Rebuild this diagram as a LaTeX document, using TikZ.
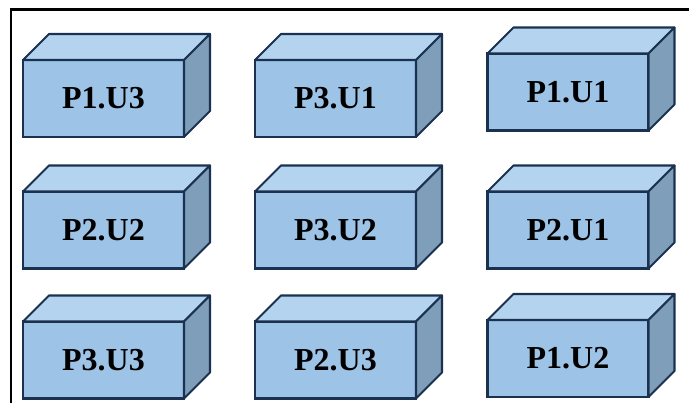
\documentclass[tikz,border=0pt]{standalone}
\usepackage{fontspec}
\setmainfont{Liberation Serif}
\usetikzlibrary{positioning}
\definecolor{frontblue}{HTML}{9DC3E6}
\definecolor{topblue}{HTML}{B4D3EE}
\definecolor{sideblue}{HTML}{7F9EBA}
\definecolor{edgenavy}{HTML}{1B3150}

\begin{document}
\begin{tikzpicture}[
  x=1pt, y=-1pt,
  frontface/.style={draw=edgenavy, fill=frontblue, line width=2.1pt,
    minimum width=161pt, minimum height=77pt, inner sep=0pt, outer sep=0pt,
    font=\fontsize{32}{32}\selectfont\bfseries},
  topface/.style={draw=edgenavy, fill=topblue, line width=2.1pt, line join=round},
  sideface/.style={draw=edgenavy, fill=sideblue, line width=2.1pt, line join=round}
]
  %------------------------------------------------------------
  %  PARAMETERS
  %------------------------------------------------------------
  \def\dep{26}     % depth of each box (shift of back edges)
  \def\wid{161}    % width of a front face
  \def\hgt{77}     % height of a front face

  \useasboundingbox (0,0) rectangle (689,403);

  %------------------------------------------------------------
  %  FRAME (top and left edges)
  %------------------------------------------------------------
  \coordinate (FrameBL) at (11,403);
  \coordinate (FrameTL) at (11,9.5);
  \coordinate (FrameTR) at (689,9.5);
  \draw[line width=2.4pt] (FrameBL) -- (FrameTL) -- (FrameTR);

  %------------------------------------------------------------
  %  BOXES:  front face as node, then top and side faces
  %------------------------------------------------------------
  \foreach \name/\cx/\cy/\lab in {
      B11/103.5/98.5/P1.U3, B12/335.5/98.5/P3.U1, B13/568/92/P1.U1,
      B21/103.5/230/P2.U2,  B22/335.5/230/P3.U2,  B23/568/230/P2.U1,
      B31/103.5/360/P3.U3,  B32/335.5/360/P2.U3,  B33/568/358.5/P1.U2} {
    \node[frontface] (\name) at (\cx,\cy) {\lab};
    \draw[topface] (\name.north west) -- ++(\dep,-\dep) -- ++(\wid,0)
      -- (\name.north east) -- cycle;
    \draw[sideface] (\name.north east) -- ++(\dep,-\dep) -- ++(0,\hgt)
      -- (\name.south east) -- cycle;
  }

\end{tikzpicture}
\end{document}
